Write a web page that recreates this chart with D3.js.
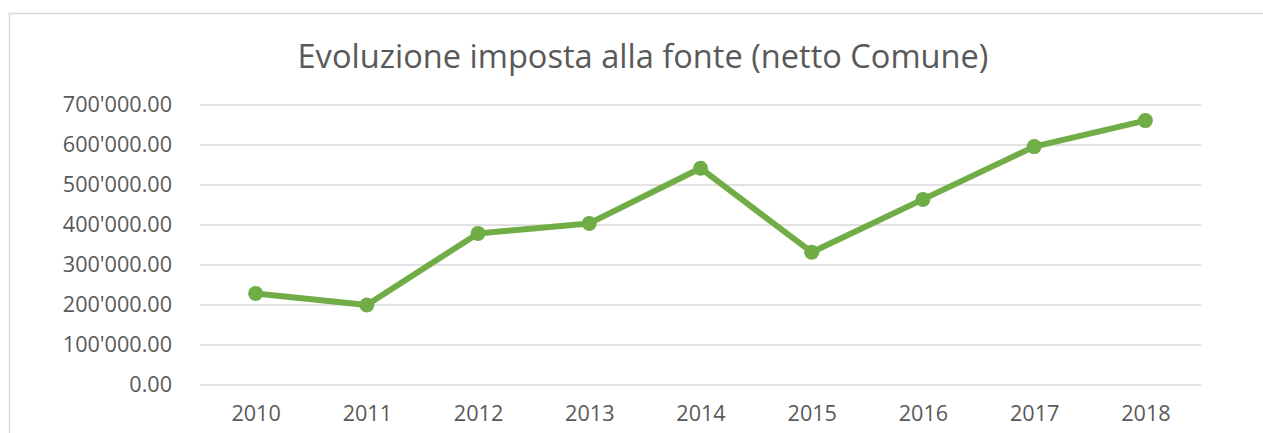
<!DOCTYPE html>
<html>
<head>
<meta charset="utf-8">
<script src="https://cdn.jsdelivr.net/npm/d3@7"></script>
<style>
  html, body { margin: 0; padding: 0; background: #fff; }
  svg { display: block; }
  text { font-family: "Open Sans", "Noto Sans", sans-serif; fill: #595959; }
</style>
</head>
<body>
<svg id="chart" width="1263" height="433"></svg>
<script>
const title = "Evoluzione imposta alla fonte (netto Comune)";
const categories = ["2010", "2011", "2012", "2013", "2014", "2015", "2016", "2017", "2018"];
const values = [229000, 200000, 379000, 404000, 542000, 332000, 464000, 596000, 661000];
const yTicks = [0, 100000, 200000, 300000, 400000, 500000, 600000, 700000];

const svg = d3.select("#chart");
const W = 1263, H = 433;
const plot = { left: 200, right: 1201, top: 105, bottom: 385 };

// chart frame
svg.append("path")
  .attr("d", `M9.5,${H} L9.5,13.5 L${W},13.5`)
  .attr("fill", "none")
  .attr("stroke", "#d9d9d9")
  .attr("stroke-width", 1.5);

const x = d3.scalePoint().domain(categories).range([plot.left, plot.right]).padding(0.5);
const y = d3.scaleLinear().domain([0, 700000]).range([plot.bottom, plot.top]);

const fmt = v => d3.format(",.2f")(v).replace(/,/g, "'");

// gridlines
svg.append("g")
  .selectAll("line")
  .data(yTicks)
  .join("line")
  .attr("x1", plot.left).attr("x2", plot.right)
  .attr("y1", d => y(d)).attr("y2", d => y(d))
  .attr("stroke", "#d9d9d9").attr("stroke-width", 1.5);

// y axis labels
const yAxis = d3.axisLeft(y).tickValues(yTicks).tickFormat(fmt).tickSize(0).tickPadding(28);
const gy = svg.append("g").attr("transform", `translate(${plot.left},0)`).call(yAxis);
gy.select(".domain").remove();
gy.selectAll("text").style("font-size", "21.6px").attr("fill", "#595959");

// x axis labels
const xAxis = d3.axisBottom(x).tickSize(0).tickPadding(21);
const gx = svg.append("g").attr("transform", `translate(0,${plot.bottom})`).call(xAxis);
gx.select(".domain").remove();
gx.selectAll("text").style("font-size", "21.6px").attr("fill", "#595959");

// title
svg.append("text")
  .attr("x", 643).attr("y", 68)
  .attr("text-anchor", "middle")
  .style("font-size", "32.6px")
  .text(title);

// line
const line = d3.line().x((d, i) => x(categories[i])).y(d => y(d));
svg.append("path")
  .datum(values)
  .attr("d", line)
  .attr("fill", "none")
  .attr("stroke", "#70ad47")
  .attr("stroke-width", 6)
  .attr("stroke-linejoin", "round");

svg.append("g")
  .selectAll("circle")
  .data(values)
  .join("circle")
  .attr("cx", (d, i) => x(categories[i]))
  .attr("cy", d => y(d))
  .attr("r", 7.5)
  .attr("fill", "#70ad47");
</script>
</body>
</html>
